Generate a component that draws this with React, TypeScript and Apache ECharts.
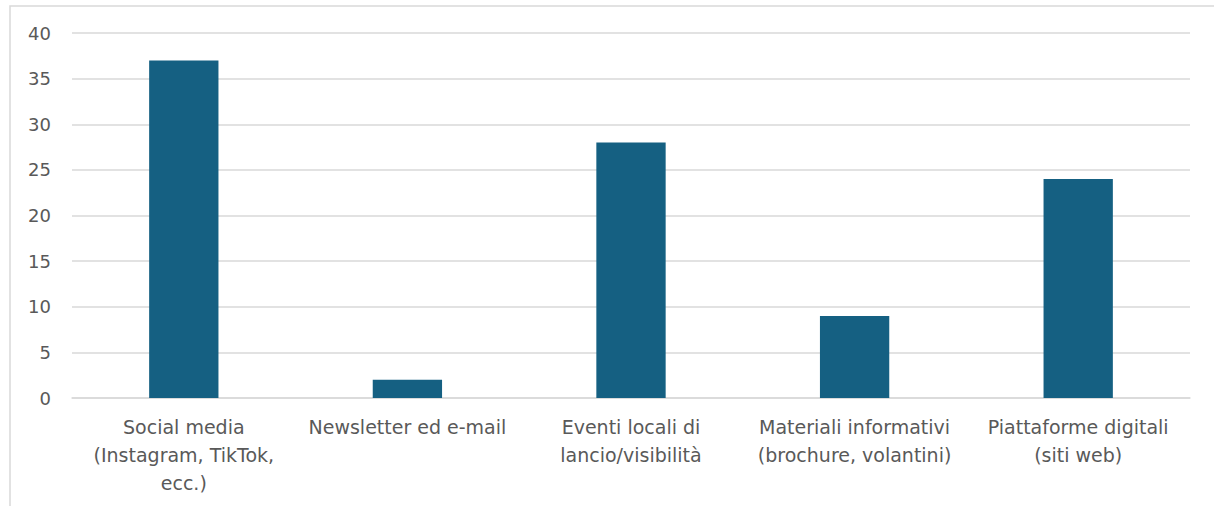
import React, { useEffect, useRef } from "react";
import * as echarts from "echarts";

const categories = [
  "Social media\n(Instagram, TikTok,\necc.)",
  "Newsletter ed e-mail",
  "Eventi locali di\nlancio/visibilità",
  "Materiali informativi\n(brochure, volantini)",
  "Piattaforme digitali\n(siti web)",
];
const values = [37, 2, 28, 9, 24];
const yMin = 0;
const yMax = 40;
const yInterval = 5;

export default function App() {
  const ref = useRef<HTMLDivElement>(null);
  useEffect(() => {
    if (!ref.current) return;
    const chart = echarts.init(ref.current, undefined, { renderer: "svg" });
    const font = "'DejaVu Sans', sans-serif";
    chart.setOption({
      animation: false,
      backgroundColor: "#ffffff",
      graphic: [
        {
          type: "rect",
          shape: { x: 10, y: 6, width: 1300, height: 600 },
          style: { fill: "none", stroke: "#d9d9d9", lineWidth: 1.5 },
          silent: true,
        },
      ],
      grid: { left: 72, right: 24, top: 33, bottom: 108, containLabel: false },
      xAxis: {
        type: "category",
        data: categories,
        axisLine: { show: true, lineStyle: { color: "#d9d9d9", width: 1.5 } },
        axisTick: { show: false },
        axisLabel: {
          color: "#595959",
          fontFamily: font,
          fontSize: 19,
          lineHeight: 28,
          margin: 15,
          interval: 0,
        },
      },
      yAxis: {
        type: "value",
        min: yMin,
        max: yMax,
        interval: yInterval,
        axisLine: { show: false },
        axisTick: { show: false },
        splitLine: { lineStyle: { color: "#d9d9d9", width: 1.5 } },
        axisLabel: {
          color: "#595959",
          fontFamily: font,
          fontSize: 18,
          margin: 21,
        },
      },
      series: [
        {
          type: "bar",
          data: values,
          barWidth: "31%",
          itemStyle: { color: "#156082" },
        },
      ],
    });
    return () => chart.dispose();
  }, []);
  return (
    <div
      ref={ref}
      style={{ position: "absolute", left: 0, top: 0, width: 1214, height: 506 }}
    />
  );
}
